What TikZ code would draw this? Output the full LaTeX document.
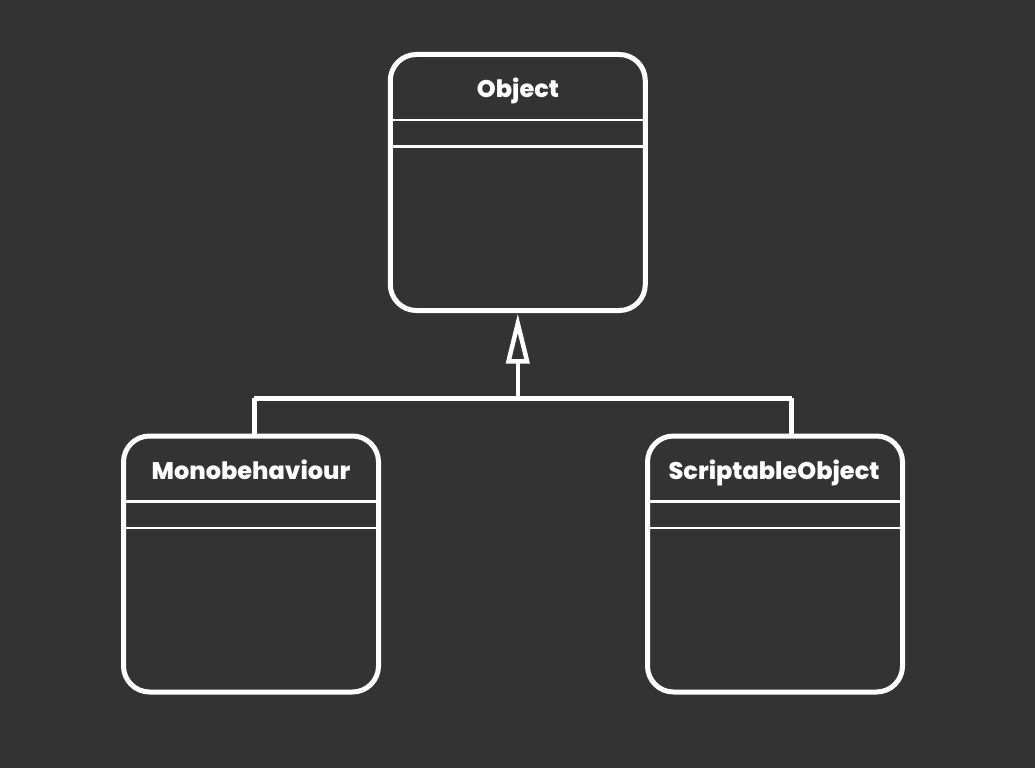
\documentclass[tikz,border=0pt]{standalone}
\usepackage{fontspec}
\setmainfont{Poppins}[BoldFont={Poppins ExtraBold}]
\usetikzlibrary{arrows.meta}
\definecolor{bg}{HTML}{333333}
\begin{document}
\begin{tikzpicture}[x=1pt,y=-1pt,
  umlbox/.style={draw=white,line width=5pt,rounded corners=26pt,minimum width=255pt,minimum height=256pt,inner sep=0pt,outer sep=0pt,fill=none},
  title/.style={text=white,font=\fontsize{24}{27}\selectfont\bfseries,anchor=base,inner sep=0pt},
  divider/.style={draw=white,line width=2.7pt},
  link/.style={draw=white,line width=5pt}]
\fill[bg] (0,0) rectangle (1035,768);
\useasboundingbox (0,0) rectangle (1035,768);
% boxes
\node[umlbox] (obj) at (517.8,182.5) {};
\node[umlbox] (mono) at (251,564) {};
\node[umlbox] (script) at (775,564) {};
% titles
\node[title] (tobj) at (518,97) {Object};
\node[title] (tmono) at (251,479.3) {Monobehaviour};
\node[title] (tscript) at (774,479.3) {ScriptableObject};
% dividers
\foreach \b in {obj,mono,script}{
  \draw[divider] ([yshift=-65.5pt]\b.north west) -- ([yshift=-65.5pt]\b.north east);
  \draw[divider] ([yshift=-92pt]\b.north west) -- ([yshift=-92pt]\b.north east);
}
% connectors
\coordinate (jn) at (517.8,398);
\coordinate (jl) at (254,398);
\coordinate (jr) at (791.5,398);
\draw[link] (jl) -- (jr);
\draw[link] (jl) -- (mono.north -| jl);
\draw[link] (jr) -- (script.north -| jr);
\draw[white,line width=4.5pt,-{Triangle[open,length=50pt,width=23pt,line width=4.5pt]},shorten >=3pt] (jn) -- (obj.south);
\end{tikzpicture}
\end{document}
